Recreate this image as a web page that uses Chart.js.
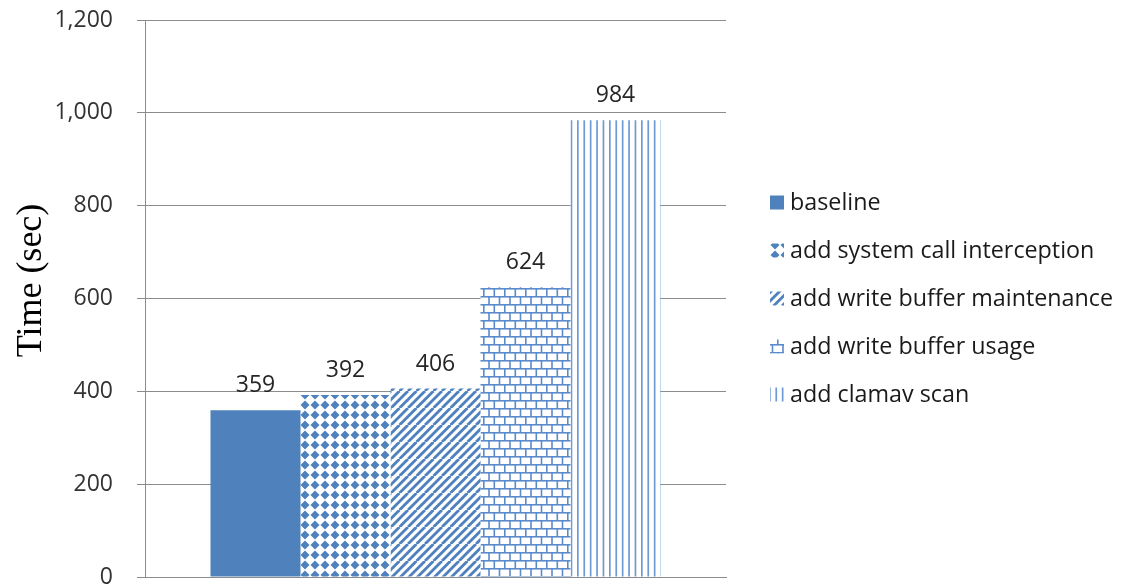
<!DOCTYPE html>
<html>
<head>
<meta charset="utf-8">
<title>Time (sec)</title>
<script src="https://cdn.jsdelivr.net/npm/chart.js@4.4.1/dist/chart.umd.min.js"></script>
<style>
    html, body { margin: 0; padding: 0; background: #fff; }
</style>
</head>
<body>
<canvas id="myChart" width="1121" height="586"></canvas>
<script>
// chart data
var categories = [''];
var seriesNames = ['baseline', 'add system call interception', 'add write buffer maintenance',
    'add write buffer usage', 'add clamav scan'];
var seriesValues = [359, 392, 406, 624, 984];
var yMin = 0, yMax = 1200, yStep = 200;

var blue = '#4f81bd';

/**
 * Builds a repeating fill pattern from a small tile
 * @param w tile width
 * @param h tile height
 * @param paint function drawing onto the tile context
 */
function makePattern(w, h, paint) {
    var tile = document.createElement('canvas');
    tile.width = w;
    tile.height = h;
    var tctx = tile.getContext('2d');
    tctx.fillStyle = '#fff';
    tctx.fillRect(0, 0, w, h);
    paint(tctx);
    return document.getElementById('myChart').getContext('2d').createPattern(tile, 'repeat');
}

var diamonds = makePattern(10, 10, function (c) {
    c.fillStyle = blue;
    c.beginPath();
    c.moveTo(5, 0.5); c.lineTo(9.5, 5); c.lineTo(5, 9.5); c.lineTo(0.5, 5);
    c.closePath();
    c.fill();
});

var diagonal = makePattern(17, 17, function (c) {
    c.strokeStyle = blue;
    c.lineWidth = 2.8;
    for (var k = -2; k <= 2; k++) {
        c.beginPath();
        c.moveTo(k * 8.5, 17);
        c.lineTo(k * 8.5 + 17, 0);
        c.stroke();
    }
});

var bricks = makePattern(21, 16, function (c) {
    c.fillStyle = '#5b8bcc';
    c.fillRect(0, 0, 21, 1.6);
    c.fillRect(0, 8, 21, 1.6);
    c.fillRect(0, 0, 1.6, 8);
    c.fillRect(10.5, 0, 1.6, 8);
    c.fillRect(5.2, 8, 1.6, 8);
    c.fillRect(15.7, 8, 1.6, 8);
});

var verticals = makePattern(32, 8, function (c) {
    c.fillStyle = '#6e9bd6';
    for (var k = 0; k < 5; k++) {
        c.fillRect(k * 6.4 + 1, 0, 1.7, 8);
    }
});

var fills = [blue, diamonds, diagonal, bricks, verticals];

// numbers above the bars
var valueLabels = {
    id: 'valueLabels',
    afterDatasetsDraw: function (chart) {
        var ctx = chart.ctx;
        ctx.save();
        ctx.font = '23px "Open Sans"';
        ctx.fillStyle = '#262626';
        ctx.textAlign = 'center';
        ctx.textBaseline = 'alphabetic';
        chart.data.datasets.forEach(function (ds, i) {
            chart.getDatasetMeta(i).data.forEach(function (bar, j) {
                ctx.fillText(ds.data[j].toLocaleString('en-US'), bar.x, bar.y - 18);
            });
        });
        ctx.restore();
    }
};

// legend on the right, drawn by hand so spacing matches
var sideLegend = {
    id: 'sideLegend',
    afterDraw: function (chart) {
        var ctx = chart.ctx;
        var area = chart.chartArea;
        var rows = chart.data.datasets.length;
        var mid = (area.top + area.bottom) / 2;
        var x = area.right + 44;
        ctx.save();
        ctx.font = '23.3px "Open Sans"';
        ctx.textBaseline = 'middle';
        ctx.textAlign = 'left';
        chart.data.datasets.forEach(function (ds, i) {
            var y = mid + (i - (rows - 1) / 2) * 48;
            ctx.fillStyle = ds.backgroundColor;
            ctx.fillRect(x, y - 7, 14, 14);
            ctx.fillStyle = '#1a1a1a';
            ctx.fillText(ds.label, x + 20, y + 1);
        });
        ctx.restore();
    }
};

var datasets = seriesNames.map(function (name, i) {
    return {
        label: name,
        data: [seriesValues[i]],
        backgroundColor: fills[i],
        borderWidth: 0,
        categoryPercentage: 0.7745,
        barPercentage: 1
    };
});

var ctx = document.getElementById('myChart').getContext('2d');
var myChart = new Chart(ctx, {
    type: 'bar',
    data: {labels: categories, datasets: datasets},
    plugins: [valueLabels, sideLegend],
    options: {
        responsive: false,
        animation: false,
        layout: {padding: {left: 7, right: 395, top: 20, bottom: 9}},
        plugins: {
            legend: {display: false},
            tooltip: {enabled: false}
        },
        scales: {
            x: {
                ticks: {display: false},
                grid: {display: false, drawTicks: false},
                border: {display: true, color: '#8c8c8c'}
            },
            y: {
                min: yMin,
                max: yMax,
                ticks: {
                    stepSize: yStep,
                    padding: 24,
                    color: '#333333',
                    font: {family: 'Open Sans', size: 23}
                },
                grid: {color: '#8c8c8c', tickLength: 8},
                border: {color: '#8c8c8c'},
                title: {
                    display: true,
                    // leading spaces nudge the rotated title a bit upward
                    text: '    Time (sec)',
                    color: '#000',
                    font: {family: 'Liberation Serif', size: 36},
                    padding: {top: 3, bottom: 0}
                },
                afterFit: function (scale) {
                    scale.width = 138;
                    scale.paddingTop = 0;
                    scale.paddingBottom = 0;
                }
            }
        }
    }
});
</script>
</body>
</html>
